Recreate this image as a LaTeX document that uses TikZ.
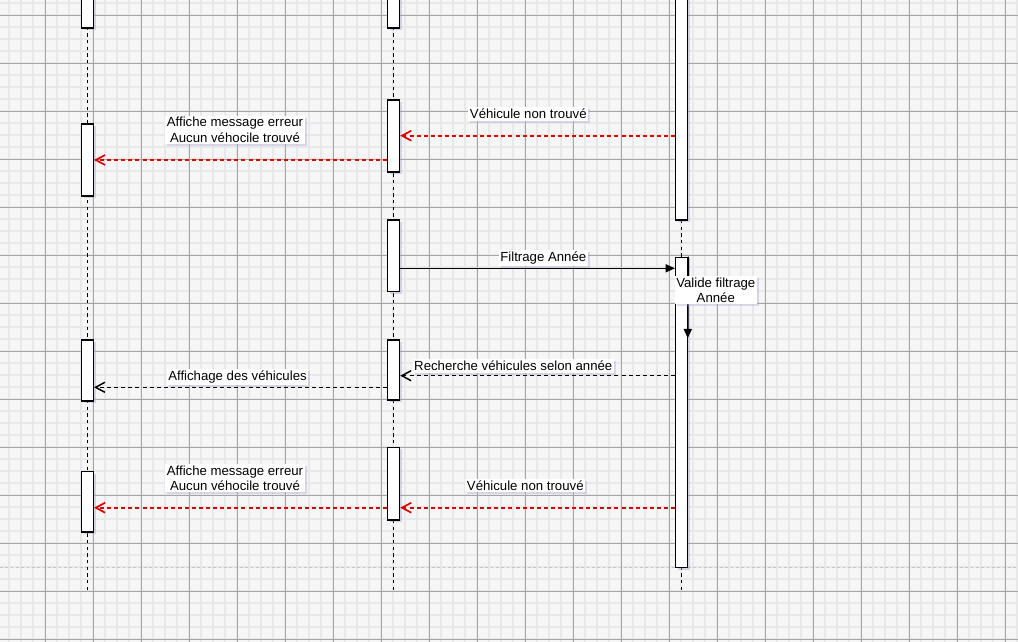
\documentclass[tikz,border=0pt]{standalone}
\usepackage{fontspec}
\setmainfont{Liberation Sans}
\usetikzlibrary{arrows.meta, shadows}

\definecolor{pagebg}{RGB}{246,246,246}
\definecolor{gridminor}{RGB}{232,232,232}
\definecolor{gridmajor}{RGB}{165,165,165}
\definecolor{errred}{RGB}{220,0,0}
\definecolor{shadowblue}{RGB}{170,170,205}

% activation bar: name, x, top, bottom (in px)
\newcommand{\actbar}[4]{%
  \node[actbox, minimum height={(#4-(#3))*0.75pt}] (#1) at (#2,{(#3+#4)/2}) {};}

\begin{document}
\begin{tikzpicture}[x=0.75pt, y=-0.75pt,
  minorline/.style={gridminor, line width=1.3pt},
  majorline/.style={gridmajor, line width=0.7pt},
  lifeline/.style={black, line width=0.8pt, dash pattern=on 2.5pt off 2.5pt},
  actbox/.style={draw=black, fill=white, line width=1.1pt, minimum width=9pt, inner sep=0pt,
    drop shadow={shadow xshift=2pt, shadow yshift=-1.5pt, fill=shadowblue, opacity=0.45}},
  msglabel/.style={fill=white, inner sep=1.2pt, align=center, font=\fontsize{9.9}{11.5}\selectfont,
    drop shadow={shadow xshift=1.5pt, shadow yshift=-1.5pt, fill=shadowblue, opacity=0.4}},
  callmsg/.style={draw=black, line width=1.1pt, -{Triangle[length=7pt, width=6pt]}},
  returnmsg/.style={draw=black, line width=1.1pt, dash pattern=on 3pt off 2.3pt,
    -{Straight Barb[length=7pt, width=7.5pt]}},
  errmsg/.style={returnmsg, draw=errred, line width=1.25pt}]
  \useasboundingbox (0,0) rectangle (1018,642);
  \clip (0,0) rectangle (1018,642);

  % page background and grid
  \fill[pagebg] (0,0) rectangle (1018,642);
  \foreach \gx in {-2.7,9.3,...,1020} \draw[minorline] (\gx,0) -- (\gx,642);
  \foreach \gy in {3.3,15.3,...,645} \draw[minorline] (0,\gy) -- (1018,\gy);
  \foreach \gx in {45.3,93.3,...,1020} \draw[majorline] (\gx,0) -- (\gx,642);
  \foreach \gy in {15.3,63.3,...,645} \draw[majorline] (0,\gy) -- (1018,\gy);
  % page break
  \draw[gray!45, line width=0.6pt, dash pattern=on 2pt off 2pt] (0,567.7) -- (1018,567.7);

  % lifelines
  \coordinate (vueend) at (87.3,592);
  \coordinate (ctrlend) at (393.5,592);
  \coordinate (bddend) at (681.7,592);
  \draw[lifeline] (87.3,0) -- (vueend);
  \draw[lifeline] (393.5,0) -- (ctrlend);
  \draw[lifeline] (681.7,0) -- (bddend);

  % activation bars
  \actbar{vue0}{87.3}{-5}{28}
  \actbar{vue1}{87.3}{124}{196}
  \actbar{vue2}{87.3}{340}{401}
  \actbar{vue3}{87.3}{471.7}{532}
  \actbar{ctrl0}{393.5}{-5}{28}
  \actbar{ctrl1}{393.5}{100}{172}
  \actbar{ctrl2}{393.5}{220}{291.7}
  \actbar{ctrl3}{393.5}{340}{400}
  \actbar{ctrl4}{393.5}{447.3}{520}
  \actbar{bdd1}{681.7}{-5}{220}
  \actbar{bdd2}{681.7}{257.3}{567.7}

  % message rows
  \coordinate (row1) at (0,135.7);
  \coordinate (row2) at (0,160);
  \coordinate (row3) at (0,268.3);
  \coordinate (row4) at (0,375.7);
  \coordinate (row5) at (0,387.3);
  \coordinate (row6) at (0,507.7);
  \coordinate (selfend) at (687.7,338.3);

  % vehicle not found (first search)
  \draw[errmsg] (bdd1.west |- row1) -- (ctrl1.east |- row1);
  \node[msglabel] (lblnf1) at (528.3,114) {Véhicule non trouvé};
  \draw[errmsg] (ctrl1.west |- row2) -- (vue1.east |- row2);
  \node[msglabel] (lblerr1) at (235,129.7) {Affiche message erreur\\Aucun véhocile trouvé};

  % year filter
  \draw[callmsg] (ctrl2.east |- row3) -- (bdd2.west |- row3);
  \node[msglabel] (lblfilt) at (543.3,258) {Filtrage Année};
  \draw[callmsg] (bdd2.north east) -- (selfend);
  \node[msglabel] (lblvalid) at (715.8,290) {Valide filtrage\\Année};

  % results
  \draw[returnmsg] (bdd2.west |- row4) -- (ctrl3.east |- row4);
  \node[msglabel] (lblsearch) at (513.3,366) {Recherche véhicules selon année};
  \draw[returnmsg] (ctrl3.west |- row5) -- (vue2.east |- row5);
  \node[msglabel] (lblshow) at (237.5,376.7) {Affichage des véhicules};

  % vehicle not found (year)
  \draw[errmsg] (bdd2.west |- row6) -- (ctrl4.east |- row6);
  \node[msglabel] (lblnf2) at (525.3,485.5) {Véhicule non trouvé};
  \draw[errmsg] (ctrl4.west |- row6) -- (vue3.east |- row6);
  \node[msglabel] (lblerr2) at (235,478.3) {Affiche message erreur\\Aucun véhocile trouvé};
\end{tikzpicture}
\end{document}
